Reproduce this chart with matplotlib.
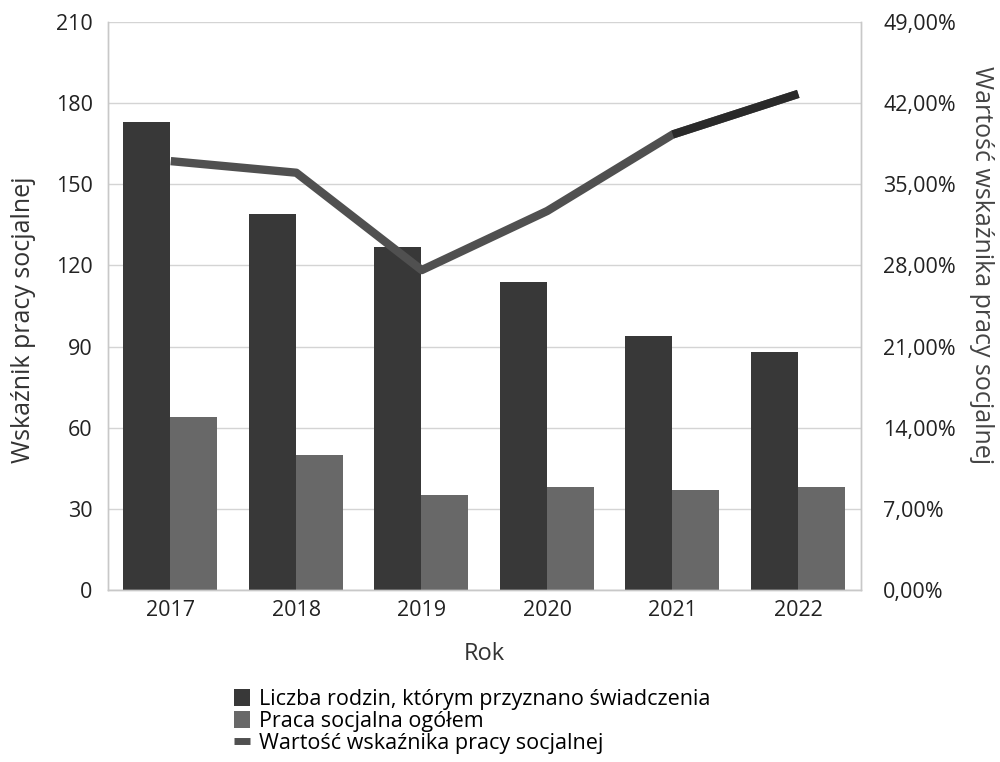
import matplotlib
matplotlib.use("Agg")

import matplotlib.pyplot as plt
import numpy as np
from matplotlib.patches import Patch
from matplotlib.lines import Line2D
from matplotlib.ticker import FuncFormatter

years = ["2017", "2018", "2019", "2020", "2021", "2022"]
families = [173, 139, 127, 114, 94, 88]
social_work = [64, 50, 35, 38, 37, 38]
indicator_pct = [37.0, 36.0, 27.6, 32.7, 39.3, 42.8]

left_ticks = [0, 30, 60, 90, 120, 150, 180, 210]
right_ticks = [0, 7, 14, 21, 28, 35, 42, 49]

plt.rcParams["font.family"] = ["Open Sans", "DejaVu Sans"]

DARK = "#383838"
LIGHT = "#686868"
LINE = "#505050"
GRID = "#d4d4d4"

fig = plt.figure(figsize=(10, 7.62), dpi=100)
ax = fig.add_axes([0.108, 0.2257, 0.753, 0.7454])
ax2 = ax.twinx()

x = np.arange(len(years))
w = 0.375
ax.bar(x - 0.19, families, width=w, color=DARK, zorder=2)
ax.bar(x + 0.185, social_work, width=w, color=LIGHT, zorder=2)

ax.set_xlim(-0.5, len(years) - 0.5)
ax.set_ylim(0, 210)
ax.set_yticks(left_ticks)
ax.set_xticks(x)
ax.set_xticklabels(years)
ax.grid(True, axis="y", color=GRID, linewidth=1.0, zorder=0)
ax.set_axisbelow(True)

ax2.set_ylim(0, 49)
ax2.set_yticks(right_ticks)
ax2.yaxis.set_major_formatter(FuncFormatter(lambda v, p: f"{v:.2f}%".replace(".", ",")))
ax2.plot(x, indicator_pct, color=LINE, linewidth=6, solid_capstyle="butt", zorder=3)
# scan shows the last segment darker
ax2.plot(x[-2:], indicator_pct[-2:], color="#2a2a2a", linewidth=6, solid_capstyle="butt", zorder=4)

for a in (ax, ax2):
    for side in ("top", "bottom", "left", "right"):
        a.spines[side].set_color("#c8c8c8")
        a.spines[side].set_linewidth(1.0)
    a.spines["top"].set_visible(False)
    a.tick_params(length=0, labelsize=15.5, colors="#222222")

ax.tick_params(axis="y", pad=11)
ax2.tick_params(axis="y", pad=16)
ax.tick_params(axis="x", pad=7)
ax.set_xlabel("Rok", fontsize=17, color="#333333", labelpad=15)
ax.set_ylabel("Wskaźnik pracy socjalnej", fontsize=18, color="#333333", va="center")
ax.yaxis.set_label_coords(-0.112, 0.475)
ax2.set_ylabel("Wartość wskaźnika pracy socjalnej", fontsize=18, color="#444444",
               rotation=270, va="center")
ax2.yaxis.set_label_coords(1.16, 0.572)

handles = [
    Patch(facecolor=DARK, edgecolor="none"),
    Patch(facecolor=LIGHT, edgecolor="none"),
    Line2D([0], [0], color=LINE, linewidth=5, solid_capstyle="butt"),
]
labels = [
    "Liczba rodzin, którym przyznano świadczenia",
    "Praca socjalna ogółem",
    "Wartość wskaźnika pracy socjalnej",
]
fig.legend(handles, labels, loc="center", bbox_to_anchor=(0.472, 0.053), frameon=False,
           fontsize=15.5, handlelength=0.75, handleheight=0.8, handletextpad=0.4,
           labelspacing=0.05, borderaxespad=0)

fig.savefig("out.png", dpi=100)
